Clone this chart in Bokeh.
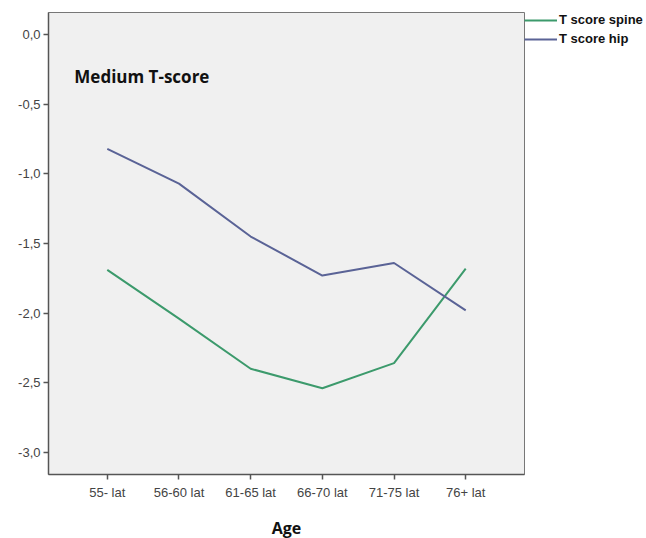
from bokeh.plotting import figure
from bokeh.models import ColumnDataSource, FixedTicker, Legend, LegendItem, Label
from bokeh.embed import file_html
from bokeh.resources import INLINE

categories = ["55- lat", "56-60 lat", "61-65 lat", "66-70 lat", "71-75 lat", "76+ lat"]
spine = [-1.69, -2.04, -2.40, -2.54, -2.36, -1.68]
hip = [-0.82, -1.07, -1.45, -1.73, -1.64, -1.98]
y_ticks = [0.0, -0.5, -1.0, -1.5, -2.0, -2.5, -3.0]
y_labels = ["0,0", "-0,5", "-1,0", "-1,5", "-2,0", "-2,5", "-3,0"]

xs = list(range(len(categories)))
src = ColumnDataSource(dict(x=xs, spine=spine, hip=hip))

p = figure(frame_width=476, frame_height=462, output_backend="svg", toolbar_location=None,
           x_range=(-0.82, 5.82), y_range=(-3.16, 0.16),
           min_border_left=48, min_border_right=0, min_border_top=12, min_border_bottom=0)
p.background_fill_color = "#F0F0F0"
p.border_fill_color = "white"
p.outline_line_color = "#777777"
p.outline_line_width = 1
p.grid.visible = False

r1 = p.line("x", "spine", source=src, line_color="#3C9A6C", line_width=2)
r2 = p.line("x", "hip", source=src, line_color="#5A6396", line_width=2)

p.xaxis.ticker = FixedTicker(ticks=xs)
p.xaxis.major_label_overrides = {i: c for i, c in enumerate(categories)}
p.yaxis.ticker = FixedTicker(ticks=y_ticks)
p.yaxis.major_label_overrides = {t: l for t, l in zip(y_ticks, y_labels)}
for ax in (p.xaxis, p.yaxis):
    ax.axis_line_color = "#555555"
    ax.axis_line_width = 1.5
    ax.major_tick_line_color = "#555555"
    ax.major_tick_line_width = 1.5
    ax.major_tick_out = 5
    ax.major_tick_in = 0
    ax.minor_tick_line_color = None
    ax.major_label_text_font = "Liberation Sans"
    ax.major_label_text_font_size = "13px"
    ax.major_label_text_color = "#444444"
p.yaxis.major_label_standoff = 3
p.xaxis.major_label_standoff = 5
p.xaxis.axis_label = "Age"
p.xaxis.axis_label_text_font = "Open Sans"
p.xaxis.axis_label_text_font_style = "bold"
p.xaxis.axis_label_text_font_size = "16px"
p.xaxis.axis_label_text_color = "#111111"
p.xaxis.axis_label_standoff = 14

title = Label(x=-0.46, y=-0.30, text="Medium T-score", text_font="Open Sans",
              text_font_style="bold", text_font_size="17px", text_color="#111111",
              text_baseline="middle")
p.add_layout(title)

legend = Legend(items=[LegendItem(label="T score spine", renderers=[r1]),
                       LegendItem(label="T score hip", renderers=[r2])],
                location="top_left", orientation="vertical")
legend.background_fill_alpha = 0
legend.border_line_alpha = 0
legend.padding = 0
legend.margin = 0
legend.spacing = 4
legend.glyph_width = 33
legend.glyph_height = 14
legend.label_height = 14
legend.label_standoff = 2
legend.label_text_font = "Liberation Sans"
legend.label_text_font_style = "bold"
legend.label_text_font_size = "13px"
legend.label_text_color = "#111111"
p.add_layout(legend, "right")

open("out.html", "w").write(file_html(p, INLINE))
